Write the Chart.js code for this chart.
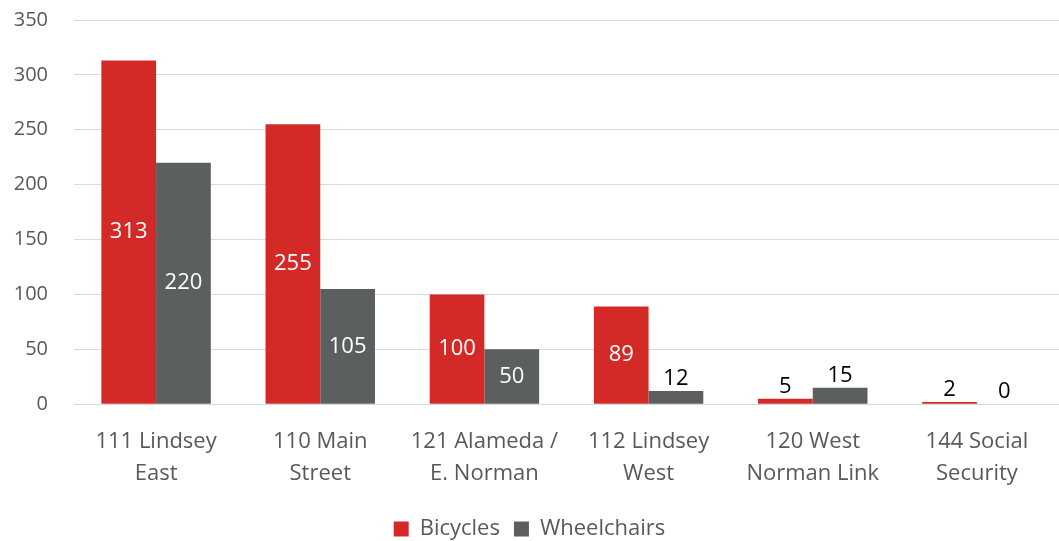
<!DOCTYPE html>
<html>
<head>
<meta charset="utf-8">
<script src="https://cdn.jsdelivr.net/npm/chart.js@4"></script>
<style>
  html, body { margin: 0; padding: 0; background: #fff; }
  #wrap { width: 1059px; height: 541px; }
</style>
</head>
<body>
<div id="wrap"><canvas id="chart"></canvas></div>
<script>
// Stops, two-line labels
const stops = [
  ['111 Lindsey', 'East'],
  ['110 Main', 'Street'],
  ['121 Alameda /', 'E. Norman'],
  ['112 Lindsey', 'West'],
  ['120 West', 'Norman Link'],
  ['144 Social', 'Security']
];
const bicycles = [313, 255, 100, 89, 5, 2];
const wheelchairs = [220, 105, 50, 12, 15, 0];
const yTicks = [0, 50, 100, 150, 200, 250, 300, 350];

const RED = '#d42a27';
const GREY = '#5b5f60';
const FONT = "'Open Sans', 'Noto Sans', sans-serif";

// value labels: centred in white for tall bars, dark above short ones
const barLabels = {
  id: 'barLabels',
  afterDatasetsDraw(chart) {
    const ctx = chart.ctx;
    ctx.save();
    ctx.font = '22px ' + FONT;
    ctx.textAlign = 'center';
    chart.data.datasets.forEach((ds, i) => {
      chart.getDatasetMeta(i).data.forEach((bar, j) => {
        const v = ds.data[j];
        if (v >= 20) {
          ctx.fillStyle = '#ffffff';
          ctx.textBaseline = 'middle';
          ctx.fillText(v, bar.x, (bar.y + bar.base) / 2);
        } else {
          ctx.fillStyle = '#000000';
          ctx.textBaseline = 'bottom';
          ctx.fillText(v, bar.x, bar.y - 1);
        }
      });
    });
    ctx.restore();
  }
};

new Chart(document.getElementById('chart'), {
  type: 'bar',
  data: {
    labels: stops,
    datasets: [
      { label: 'Bicycles', data: bicycles, backgroundColor: RED },
      { label: 'Wheelchairs', data: wheelchairs, backgroundColor: GREY }
    ]
  },
  options: {
    responsive: true,
    maintainAspectRatio: false,
    animation: false,
    layout: { padding: { top: 20, right: 0, bottom: -9, left: 0 } },
    datasets: { bar: { categoryPercentage: 2 / 3, barPercentage: 1 } },
    plugins: {
      tooltip: { enabled: false },
      legend: {
        position: 'bottom',
        labels: {
          color: '#595959',
          font: { family: FONT, size: 22 },
          boxWidth: 15,
          boxHeight: 15,
          padding: 14
        }
      }
    },
    scales: {
      x: {
        grid: { display: false },
        border: { color: '#d9d9d9', width: 1 },
        ticks: {
          color: '#595959',
          font: { family: FONT, size: 22, lineHeight: 1.45 },
          maxRotation: 0,
          padding: 14
        }
      },
      y: {
        min: 0,
        max: 350,
        afterBuildTicks: axis => { axis.ticks = yTicks.map(v => ({ value: v })); },
        afterFit: axis => { axis.width = 74; },
        grid: { color: '#d9d9d9', lineWidth: 1, tickLength: 24, tickColor: 'transparent' },
        border: { display: false },
        ticks: {
          color: '#595959',
          font: { family: FONT, size: 20 },
          padding: 2
        }
      }
    }
  },
  plugins: [barLabels]
});
</script>
</body>
</html>
